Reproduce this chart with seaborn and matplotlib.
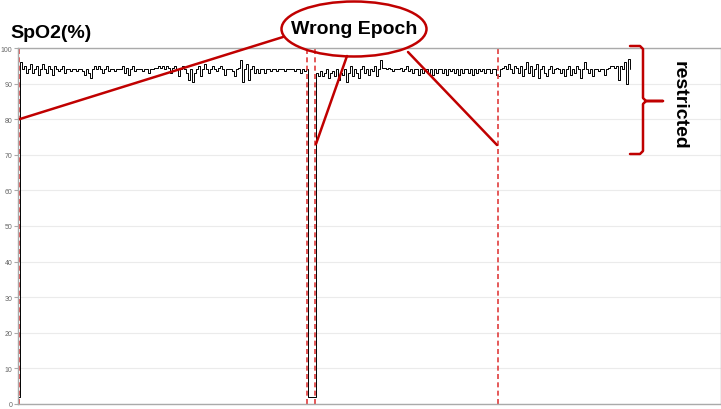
import numpy as np
import pandas as pd
import matplotlib
matplotlib.use("Agg")
import matplotlib.pyplot as plt
from matplotlib.patches import Ellipse
from matplotlib.lines import Line2D
import seaborn as sns

# SpO2 readings (%), one value per sample
lead_in = [2]
epoch_a = [96, 94, 95, 93, 94, 95.5, 93, 94, 95, 92.5, 94, 95.5, 94, 93, 95, 94, 92.5, 95, 94, 93.5,
           94, 95, 93, 94, 94, 93.5, 94, 94, 93.5, 94, 94, 93.5, 92.5, 94, 93, 91.5, 94, 95, 94, 95,
           94, 93, 94, 95, 93.5, 94, 94, 93.5, 94, 94,
           94, 95, 93, 94.5, 92.5, 94, 95, 93.5, 94, 94, 94, 93.5, 94, 94, 93, 94, 94, 94.5, 94.5, 95,
           94.5, 95, 94, 95, 94.5, 93, 94.5, 95, 94, 92, 94, 95, 94, 93, 91, 94, 90.5, 93, 94, 95,
           92, 94, 95.5, 94, 93, 94, 95, 94, 93.5, 94.5, 95, 94, 92.5, 94, 94,
           94, 93.5, 92, 94, 94.5, 96.5, 90.5, 94, 95.5, 91, 94, 95, 93, 94, 93, 94, 94, 93, 94, 94,
           93.5, 94, 94, 93.5, 94, 94, 94, 93.5, 94, 94, 94, 94, 93.5, 94, 94, 93, 94, 93.5, 94]
gap = [2, 2, 2, 2]
epoch_b = [93, 92, 93.5, 92, 93, 94, 91.5, 93, 93.5, 92, 94, 91, 93, 92.5, 94, 90.5, 93, 95, 92, 94,
           93, 91.5, 94, 95, 93, 94, 92.5, 94, 93.5, 95, 92, 94,
           96.5, 94.5, 94.5, 94, 94.5, 94, 93.5, 94, 94, 94, 94.5, 93.5, 94, 95, 93.5,
           94, 93, 94, 94, 92.5, 94, 93, 94, 94, 93, 94, 92.5, 94, 93, 94, 94, 93, 94, 92.5, 94,
           93.5, 94, 93, 94, 92.5, 94, 93, 94, 94, 93, 94, 92.5, 94, 93, 94, 93.5, 94, 93, 94, 94,
           93, 94, 94, 92.5,
           92, 94, 94.5, 95, 94, 95.5, 94, 93, 95, 94.5, 93, 95, 92, 94, 96, 93, 95, 92, 94, 95.5,
           91.5, 94, 95, 93, 92, 94, 95, 93, 94, 94.5, 94, 93, 94, 92, 94, 95, 92.5, 94, 93, 95,
           94, 91.5, 94, 96, 94, 93, 94, 92, 94, 94, 93.5, 94, 94, 92.5, 94, 94.5, 95, 95, 94.5, 95,
           91, 95, 94, 96, 90, 97, 94]

# sample positions of the dashed epoch markers
epoch_marks = [0.5, 144.5, 148.5, 240]
y_ticks = list(range(0, 101, 10))

values = lead_in + epoch_a + gap + epoch_b
df = pd.DataFrame({"sample": np.arange(len(values)), "spo2": values})

sns.set_style("whitegrid")
plt.rcParams["font.family"] = ["Liberation Sans", "DejaVu Sans"]
plt.rcParams["text.color"] = "black"

W, H = 721, 410
fig = plt.figure(figsize=(W / 100, H / 100), dpi=100)
ax = fig.add_axes([18 / W, 5 / H, 703 / W, 356 / H])

sns.lineplot(data=df, x="sample", y="spo2", ax=ax, color="black", linewidth=0.7,
             drawstyle="steps-post", estimator=None, sort=False)

for m in epoch_marks:
    ax.axvline(m, color="#e03c3c", linestyle=(0, (3, 2)), linewidth=1.2)

ax.set_xlim(0, 351.5)
ax.set_ylim(0, 100)
ax.set_yticks(y_ticks)
ax.set_xticks([])
ax.set_xlabel("")
ax.set_ylabel("")
ax.grid(axis="y", color="#ebebeb", linewidth=0.8)
ax.grid(axis="x", visible=False)
ax.tick_params(axis="y", left=True, length=3, width=0.8, color="#aaaaaa",
               labelsize=5, labelcolor="#666666", pad=1)
for side, sp in ax.spines.items():
    sp.set_color("#aaaaaa")
    sp.set_linewidth(1.0)


def fp(px, py):
    # figure pixel -> figure fraction
    return px / W, 1 - py / H


red = "#c00000"
fig.text(*fp(10, 34), "SpO2(%)", fontsize=14, fontweight="bold", va="center", ha="left",
         color="black")

# "Wrong Epoch" callout
cx, cy = fp(354, 30)
fig.patches.append(Ellipse((cx, cy), 145 / W, 55 / H, transform=fig.transFigure,
                           facecolor="none", edgecolor=red, linewidth=1.8))
fig.text(cx, cy, "Wrong Epoch", fontsize=14, fontweight="bold", ha="center", va="center",
         color="black")
for (x0, y0), (x1, y1) in [((283, 38), (20, 120)), ((347, 57), (316, 145)), ((408, 53), (497, 146))]:
    a, b = fp(x0, y0)
    c, d = fp(x1, y1)
    fig.lines.append(Line2D([a, c], [b, d], transform=fig.transFigure, color=red, linewidth=1.8))

# "restricted" brace
brace = [(630, 47), (640, 47), (643, 50), (643, 99), (646, 102), (663, 102),
         (646, 102), (643, 105), (643, 152), (640, 155), (630, 155)]
bx, by = zip(*[fp(x, y) for x, y in brace])
fig.lines.append(Line2D(bx, by, transform=fig.transFigure, color=red, linewidth=1.8))
fig.text(*fp(679, 105), "restricted", fontsize=14, fontweight="bold", rotation=-90,
         ha="center", va="center", color="black")

fig.savefig("out.png", dpi=100)
